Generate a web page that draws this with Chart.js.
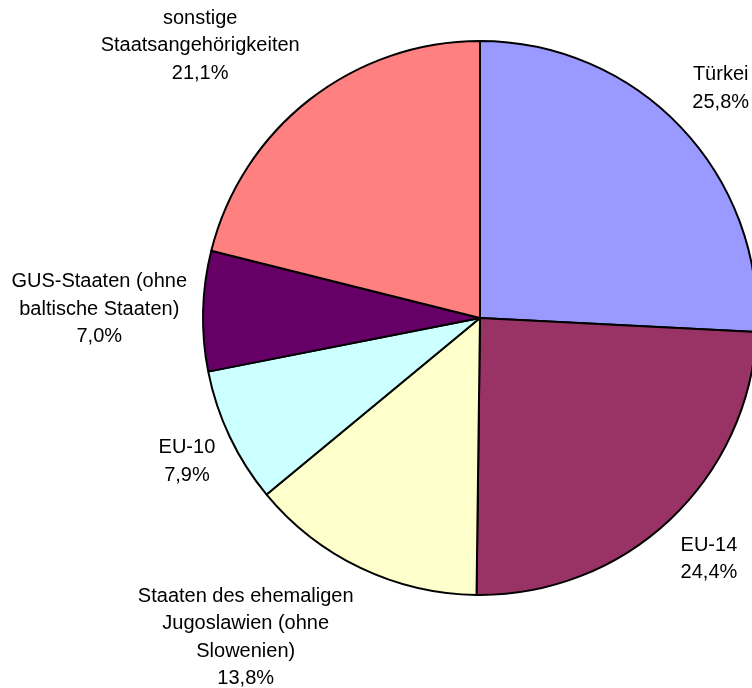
<!DOCTYPE html>
<html>
<head>
<meta charset="utf-8">
<script src="https://cdn.jsdelivr.net/npm/chart.js@4/dist/chart.umd.min.js"></script>
<style>
  html, body { margin: 0; padding: 0; background: #fff; overflow: hidden; }
  #wrap { position: absolute; left: 0; top: 0; width: 770px; height: 688px; }
</style>
</head>
<body>
<div id="wrap"><canvas id="canvas" width="770" height="688"></canvas></div>
<script>
// categories (each entry split into the lines shown on the label)
var categories = [
  ['Türkei'],
  ['EU-14'],
  ['Staaten des ehemaligen', 'Jugoslawien (ohne', 'Slowenien)'],
  ['EU-10'],
  ['GUS-Staaten (ohne', 'baltische Staaten)'],
  ['sonstige', 'Staatsangehörigkeiten']
];
var shares = [25.8, 24.4, 13.8, 7.9, 7.0, 21.1];
var sliceColors = ['#9999FF', '#993366', '#FFFFCC', '#CCFFFF', '#660066', '#FF8080'];

function fmtPct(v) {
  return v.toFixed(1).replace('.', ',') + '%';
}

// draws excel-style labels outside each slice
var outsideLabels = {
  id: 'outsideLabels',
  afterDatasetsDraw: function(chart) {
    var ctx = chart.ctx;
    var meta = chart.getDatasetMeta(0);
    var fontSize = 20, lineH = 27.5, gap = 16;
    ctx.save();
    ctx.font = fontSize + 'px "Liberation Sans", Arial, sans-serif';
    ctx.fillStyle = '#000';
    ctx.textAlign = 'center';
    ctx.textBaseline = 'middle';
    meta.data.forEach(function(arc, i) {
      var lines = categories[i].concat([fmtPct(shares[i])]);
      var w = 0;
      lines.forEach(function(l) { w = Math.max(w, ctx.measureText(l).width); });
      var h = lines.length * lineH;
      var mid = (arc.startAngle + arc.endAngle) / 2;
      var ux = Math.cos(mid), uy = Math.sin(mid);
      var ax = arc.x + ux * (arc.outerRadius + gap);
      var ay = arc.y + uy * (arc.outerRadius + gap);
      var cx = ax + w / 2 * Math.max(-1, Math.min(1, ux * 2.5));
      var cy = ay + h / 2 * Math.max(-1, Math.min(1, uy * 1.5));
      lines.forEach(function(l, k) {
        ctx.fillText(l, cx, cy - h / 2 + lineH * (k + 0.5));
      });
    });
    ctx.restore();
  }
};

window.onload = function() {
  window.myPie = new Chart(document.getElementById('canvas'), {
    type: 'pie',
    data: {
      labels: categories,
      datasets: [{
        data: shares,
        backgroundColor: sliceColors,
        borderColor: '#000',
        borderWidth: 2
      }]
    },
    options: {
      responsive: false,
      animation: false,
      layout: { padding: { left: 202, right: 12, top: 40, bottom: 92 } },
      plugins: {
        legend: { display: false },
        tooltip: { enabled: false }
      }
    },
    plugins: [outsideLabels]
  });
};
</script>
</body>
</html>
